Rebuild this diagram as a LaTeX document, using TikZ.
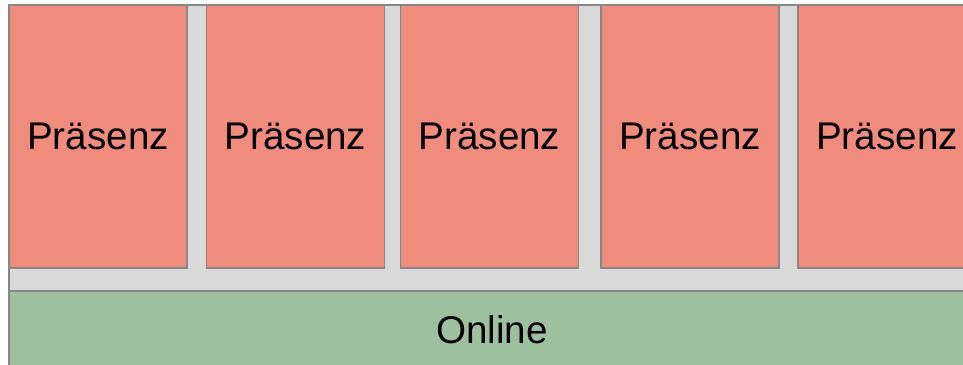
\documentclass[tikz,border=0pt]{standalone}
\usepackage{fontspec}
\setmainfont{Liberation Sans}
\usepackage{tikz}
\usetikzlibrary{positioning}
\definecolor{praesenzred}{HTML}{EF8C7D}
\definecolor{onlinegreen}{HTML}{9FC09E}
\definecolor{panelgrey}{HTML}{D9D9D9}
\definecolor{edgegrey}{HTML}{878787}
\tikzset{
    panel/.style={draw=edgegrey, fill=panelgrey, line width=1.5pt},
    praesenz/.style={draw=edgegrey, fill=praesenzred, line width=1.5pt,
        minimum width=178pt, minimum height=263pt, inner sep=0pt,
        font=\fontsize{38.6}{44}\selectfont},
    online/.style={draw=edgegrey, fill=onlinegreen, line width=1.5pt,
        minimum width=972pt, minimum height=90pt, inner sep=0pt,
        font=\fontsize{38.6}{44}\selectfont},
}

\begin{document}
\begin{tikzpicture}[x=1pt, y=-1pt]
    \useasboundingbox (0,0) rectangle (963,364);
    \clip (0,0) rectangle (963,364);
	\draw[panel] (9,5) rectangle (990,390);
	% lessons on site
	\node[praesenz] (p1) at (98,136.5) {Präsenz};
	\node[praesenz] (p2) at (295.5,136.5) {Präsenz};
	\node[praesenz] (p3) at (489.5,136.5) {Präsenz};
	\node[praesenz] (p4) at (690,136.5) {Präsenz};
	\node[praesenz] (p5) at (887,136.5) {Präsenz};
	% online part
	\node[online] (on) at (495,336) {};
	\node (ontext) at (492,330) {\fontsize{38.6}{44}\selectfont Online};
\end{tikzpicture}
\end{document}
